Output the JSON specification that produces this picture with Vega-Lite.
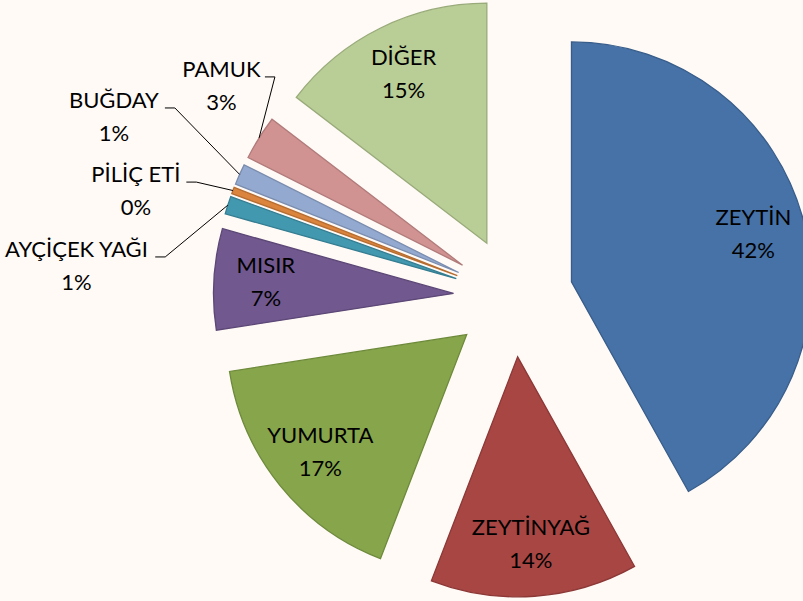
{
  "$schema": "https://vega.github.io/schema/vega-lite/v6.json",
  "width": 803,
  "height": 601,
  "autosize": "none",
  "padding": 0,
  "background": "#FFFAF6",
  "config": {"view": {"stroke": null}},
  "data": {
    "values": [
      {"name": "ZEYTİN", "value": 41.9},
      {"name": "ZEYTİNYAĞ", "value": 13.95},
      {"name": "YUMURTA", "value": 16.7},
      {"name": "MISIR", "value": 6.8},
      {"name": "AYÇİÇEK YAĞI", "value": 1.2},
      {"name": "PİLİÇ ETİ", "value": 0.45},
      {"name": "BUĞDAY", "value": 1.4},
      {"name": "PAMUK", "value": 3.0},
      {"name": "DİĞER", "value": 14.6}
    ]
  },
  "transform": [
    {"window": [{"op": "sum", "field": "value", "as": "end"}], "frame": [null, 0]},
    {"calculate": "datum.end - datum.value", "as": "start"},
    {"calculate": "(datum.start + datum.end) / 2", "as": "midp"},
    {"calculate": "(datum.start + datum.end) / 100 * PI", "as": "mida"},
    {"calculate": "60 * sin(datum.mida)", "as": "ex"},
    {"calculate": "-60 * cos(datum.mida)", "as": "ey"},
    {"calculate": "datum.value < 5", "as": "small"},
    {"calculate": "datum.name + '\\n' + format(datum.value / 100, '.0%')", "as": "label"}
  ],
  "layer": [
    {
      "mark": {"type": "arc", "radius": 240, "strokeWidth": 1.3},
      "encoding": {
        "x": {"field": "ex", "type": "quantitative", "scale": {"domain": [-513.4, 289.6], "nice": false, "zero": false}, "axis": null},
        "y": {"field": "ey", "type": "quantitative", "scale": {"domain": [-297, 304], "nice": false, "zero": false, "reverse": true}, "axis": null},
        "theta": {"field": "start", "type": "quantitative", "stack": null, "scale": {"domain": [0, 100], "range": [0, 6.283185307]}},
        "theta2": {"field": "end"},
        "color": {
          "field": "name", "type": "nominal", "legend": null,
          "scale": {
            "domain": ["ZEYTİN", "ZEYTİNYAĞ", "YUMURTA", "MISIR", "AYÇİÇEK YAĞI", "PİLİÇ ETİ", "BUĞDAY", "PAMUK", "DİĞER"],
            "range": ["#4672A7", "#A84644", "#87A54B", "#71588F", "#4198AF", "#DB843D", "#93A9CF", "#D19392", "#B9CD96"]
          }
        },
        "stroke": {
          "field": "name", "type": "nominal", "legend": null,
          "scale": {
            "domain": ["ZEYTİN", "ZEYTİNYAĞ", "YUMURTA", "MISIR", "AYÇİÇEK YAĞI", "PİLİÇ ETİ", "BUĞDAY", "PAMUK", "DİĞER"],
            "range": ["#385D8A", "#8C3836", "#6D8A3A", "#5C4776", "#357D91", "#B66D31", "#7A8DAF", "#B07B7A", "#99AB7A"]
          }
        }
      }
    },
    {
      "transform": [{"filter": "!datum.small"}],
      "mark": {"type": "text", "radius": 188, "dy": -16.5, "font": "Lato", "fontSize": 22, "lineHeight": 33, "lineBreak": "\n", "align": "center", "baseline": "middle", "color": "#000000"},
      "encoding": {
        "x": {"field": "ex", "type": "quantitative"},
        "y": {"field": "ey", "type": "quantitative"},
        "theta": {"field": "midp", "type": "quantitative", "stack": null, "scale": {"domain": [0, 100], "range": [0, 6.283185307]}},
        "text": {"field": "label", "type": "nominal"}
      }
    },
    {
      "transform": [
        {"filter": "datum.small"},
        {"window": [{"op": "row_number", "as": "k"}]},
        {"calculate": "(274 + 10.1 * (datum.k - 1) + (datum.k % 2 == 0 ? 1.5 : 0)) * PI / 180", "as": "la"},
        {"calculate": "datum.k % 2 == 1 ? 438 : 424 - 16 * datum.k", "as": "lr"},
        {"calculate": "datum.lr * sin(datum.la)", "as": "lx"},
        {"calculate": "-datum.lr * cos(datum.la)", "as": "ly"}
      ],
      "mark": {"type": "text", "dy": -16.5, "font": "Lato", "fontSize": 22, "lineHeight": 33, "lineBreak": "\n", "align": "center", "baseline": "middle", "color": "#000000"},
      "encoding": {
        "x": {"field": "lx", "type": "quantitative"},
        "y": {"field": "ly", "type": "quantitative"},
        "text": {"field": "label", "type": "nominal"}
      }
    },
    {
      "transform": [
        {"filter": "datum.small"},
        {"window": [{"op": "row_number", "as": "k"}]},
        {"calculate": "(274 + 10.1 * (datum.k - 1) + (datum.k % 2 == 0 ? 1.5 : 0)) * PI / 180", "as": "la"},
        {"calculate": "datum.k % 2 == 1 ? 438 : 424 - 16 * datum.k", "as": "lr"},
        {"calculate": "length(datum.name) - length(replace(datum.name, /[İI ]/g, ''))", "as": "nar"},
        {"calculate": "(15 * (length(datum.name) - datum.nar) + 3.5 * datum.nar) / 2", "as": "hw"},
        {"calculate": "datum.lr * sin(datum.la) + datum.hw + 6", "as": "sx"},
        {"calculate": "-datum.lr * cos(datum.la) - 9.5", "as": "sy"},
        {"calculate": "datum.sx + 10", "as": "kx"}
      ],
      "mark": {"type": "rule", "color": "#000000", "strokeWidth": 1},
      "encoding": {
        "x": {"field": "sx", "type": "quantitative"},
        "x2": {"field": "kx"},
        "y": {"field": "sy", "type": "quantitative"},
        "y2": {"field": "sy"}
      }
    },
    {
      "transform": [
        {"filter": "datum.small"},
        {"window": [{"op": "row_number", "as": "k"}]},
        {"calculate": "(274 + 10.1 * (datum.k - 1) + (datum.k % 2 == 0 ? 1.5 : 0)) * PI / 180", "as": "la"},
        {"calculate": "datum.k % 2 == 1 ? 438 : 424 - 16 * datum.k", "as": "lr"},
        {"calculate": "length(datum.name) - length(replace(datum.name, /[İI ]/g, ''))", "as": "nar"},
        {"calculate": "(15 * (length(datum.name) - datum.nar) + 3.5 * datum.nar) / 2", "as": "hw"},
        {"calculate": "datum.lr * sin(datum.la) + datum.hw + 16", "as": "kx"},
        {"calculate": "-datum.lr * cos(datum.la) - 9.5", "as": "ky"},
        {"calculate": "300 * sin(datum.mida)", "as": "px"},
        {"calculate": "-300 * cos(datum.mida)", "as": "py"}
      ],
      "mark": {"type": "rule", "color": "#000000", "strokeWidth": 1},
      "encoding": {
        "x": {"field": "kx", "type": "quantitative"},
        "x2": {"field": "px"},
        "y": {"field": "ky", "type": "quantitative"},
        "y2": {"field": "py"}
      }
    }
  ]
}
